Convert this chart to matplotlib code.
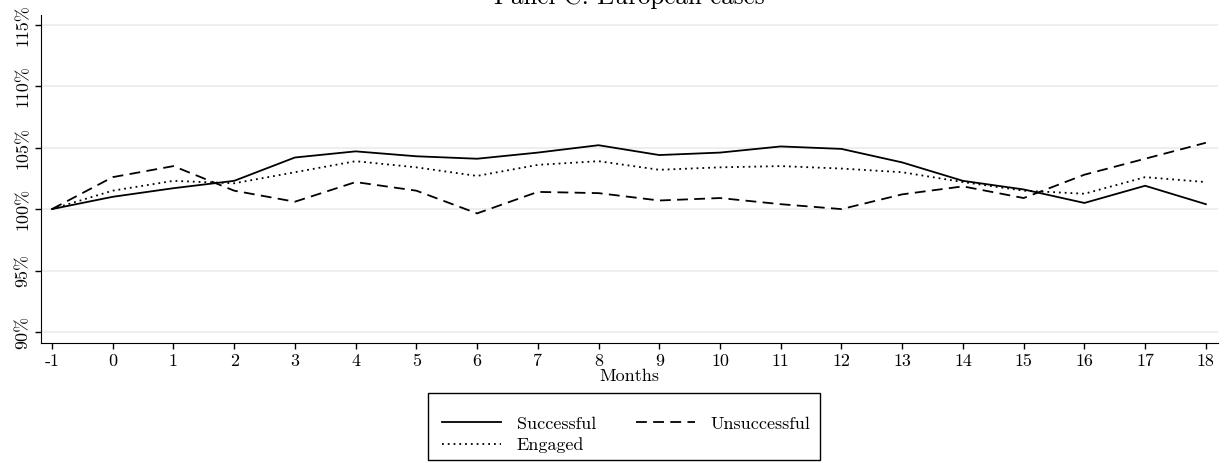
#%% Panel C: European cases

import numpy as np
import matplotlib
matplotlib.use('Agg')
import matplotlib.pyplot as plt
from matplotlib.patches import Rectangle

plt.rcParams['font.family'] = ['cmr10', 'DejaVu Serif']
plt.rcParams['axes.unicode_minus'] = False
plt.rcParams['mathtext.fontset'] = 'cm'

# Meses relativos ao evento e valores (% do mês -1)
months = list(range(-1, 19))
successful = [100.0, 101.0, 101.7, 102.3, 104.2, 104.7, 104.3, 104.1, 104.6, 105.2,
              104.4, 104.6, 105.1, 104.9, 103.8, 102.3, 101.6, 100.5, 101.9, 100.4]
unsuccessful = [100.0, 102.6, 103.5, 101.5, 100.6, 102.2, 101.5, 99.65, 101.4, 101.3,
                100.7, 100.9, 100.4, 100.0, 101.2, 101.85, 100.9, 102.8, 104.1, 105.4]
engaged = [100.0, 101.5, 102.3, 102.1, 103.0, 103.9, 103.4, 102.7, 103.6, 103.9,
           103.2, 103.4, 103.5, 103.3, 103.0, 102.2, 101.5, 101.25, 102.6, 102.2]
yticks = [90, 95, 100, 105, 110, 115]
ytick_labels = ['90%', '95%', '100%', '105%', '110%', '115%']

W, H = 1228, 463
fig = plt.figure(figsize=(W/100, H/100), dpi=100)
ax = fig.add_axes([41/W, 1-343/H, (1218-41)/W, (343-15)/H])

for y in yticks:
    ax.axhline(y, color='#ebebeb', lw=1.2, zorder=0)

l1, = ax.plot(months, successful, color='black', lw=1.3, ls='-', label='Successful')
l2, = ax.plot(months, unsuccessful, color='black', lw=1.3, ls=(0, (6, 3.5)), label='Unsuccessful')
l3, = ax.plot(months, engaged, color='black', lw=1.3, ls=(0, (1, 2.2)), label='Engaged')

ax.set_xlim(-1.18, 18.2)
ax.set_ylim(89.1, 115.8)
ax.set_xticks(months)
ax.set_xticklabels([str(m) for m in months], fontsize=13)
ax.set_yticks(yticks)
ax.set_yticklabels(ytick_labels, fontsize=13, rotation=90, va='center')
ax.spines['top'].set_visible(False)
ax.spines['right'].set_visible(False)
ax.tick_params(direction='out', length=4.5, width=1, pad=3)
ax.set_xlabel('Months', fontsize=13, labelpad=0)

fig.text(629.5/W, 1-4/H, 'Panel C: European cases', fontsize=18,
         ha='center', va='baseline')

# legenda sem moldura + caixa desenhada à parte (padding de cima maior, como no Stata)
leg = fig.legend([l1, l3, l2], ['Successful', 'Engaged', 'Unsuccessful'],
                 loc='center', bbox_to_anchor=(626/W, 1-434.5/H),
                 ncol=2, fontsize=13, frameon=False,
                 handlelength=3.3, handletextpad=0.85,
                 columnspacing=2.2, borderpad=0.0, labelspacing=0.3)
fig.patches.append(Rectangle((428/W, 1-460/H), (820-428)/W, (460-393)/H,
                             transform=fig.transFigure, fill=False,
                             edgecolor='black', lw=1.0))

plt.savefig('out.png', format='png', dpi=100)
# %%
